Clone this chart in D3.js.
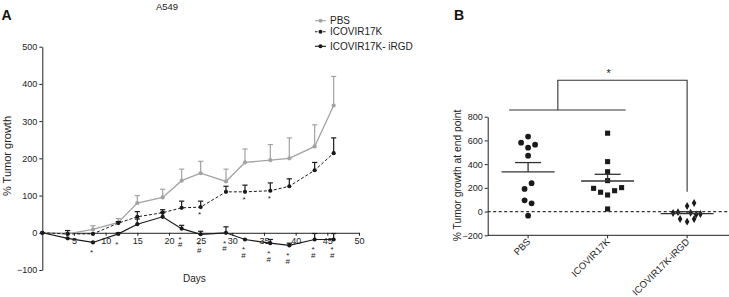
<!DOCTYPE html>
<html><head><meta charset="utf-8">
<script src="https://cdn.jsdelivr.net/npm/d3@7"></script>
<style>
body{margin:0;background:#fff;}
svg{display:block;font-family:"Liberation Sans",Arial,sans-serif;}
</style></head><body>
<svg id="c" width="729" height="297"></svg>
<script>
// ---------- Panel A data ----------
const days = [0,4,8,12,15,19,22,25,29,32,36,39,43,46];
const pbs       = [0,-3,9,28,80,95,140,160,138,189,195,200,232,342];
const pbsErr    = [0,3,10,10,20,22,31,32,33,36,42,55,58,78];
const icovir    = [0,-3,-3,26,43,54,67,69,110,110,113,125,168,214];
const icovirErr = [0,9,0,4,14,8,18,16,15,18,21,20,21,41];
const irgd      = [0,-15,-26,-3,23,43,11,-4,0,-18,-28,-34,-18,-18];
const irgdErr   = [0,0,0,3,14,12,9,8,16,0,10,6,16,16];
const irgdStarDays = [8,12,22,25,29,32,36,39,43,46];
const irgdHashDays = [22,25,29,32,36,39,43,46];
const icovirStarDays = [25,32,36];
const xTicksA = [5,10,15,20,25,30,35,40,45,50];
const yTicksA = [-100,0,100,200,300,400,500];
const seriesNames = ["PBS","ICOVIR17K","ICOVIR17K- iRGD"];

// ---------- Panel B data ----------
const groups = ["PBS","ICOVIR17K","ICOVIR17K-iRGD"];
const pbsEnd    = [632,581,564,539,471,239,191,95,70,-35];
const icovirEnd = [661,421,336,261,196,163,140,176,202,22];
const irgdEnd   = [47,72,-5,-10,-25,-20,-63,-85,-63,-12];
const pbsJit    = [0,-1,1,0,0,0.5,-0.5,-0.5,0.5,0];
const icovirJit = [0,0,0,0,-2,-1,0,1,2,0];
const irgdJit   = [0,1,-1.3,0.5,1.3,1.9,-1,0,1,-2];
const yTicksB = [-200,0,200,400,600,800];

const svg = d3.select("#c");
const ink = "#222";
const font = 9;

// ================= Panel A =================
const xA = d3.scaleLinear().domain([0,50]).range([42.3,359]);
const yA = d3.scaleLinear().domain([-100,500]).range([270,46.7]);

const gA = svg.append("g");
const yAxA = gA.append("g").attr("transform",`translate(${xA(0)},0)`)
  .call(d3.axisLeft(yA).tickValues(yTicksA).tickSize(3).tickSizeOuter(0).tickPadding(2));
const xAxA = gA.append("g").attr("transform",`translate(0,${yA(0)})`)
  .call(d3.axisBottom(xA).tickValues(xTicksA).tickSize(3).tickSizeOuter(0).tickPadding(2));
[yAxA,xAxA].forEach(a=>{
  a.selectAll("path,line").attr("stroke",ink).attr("stroke-width",1);
  a.selectAll("text").attr("fill",ink).style("font-size",font+"px").style("font-family","Liberation Sans, Arial, sans-serif");
});

gA.append("text").attr("x",167).attr("y",9.5).attr("text-anchor","middle")
  .attr("fill",ink).style("font-size","9.5px").text("A549");
gA.append("text").attr("x",1.5).attr("y",20).attr("fill","#111")
  .style("font-size","14px").style("font-weight","bold").text("A");
gA.append("text").attr("x",xA(24)).attr("y",282).attr("text-anchor","middle")
  .attr("fill",ink).style("font-size","10px").text("Days");
gA.append("text").attr("transform",`translate(10.5,156) rotate(-90)`).attr("text-anchor","middle")
  .attr("fill",ink).style("font-size","11px").text("% Tumor growth");

const series = [
  {vals:pbs, err:pbsErr, color:"#a3a3a3", dash:null, w:1.3},
  {vals:icovir, err:icovirErr, color:"#1a1a1a", dash:"3,2", w:1},
  {vals:irgd, err:irgdErr, color:"#1a1a1a", dash:null, w:1.2}
];
const line = d3.line().x(d=>xA(d[0])).y(d=>yA(d[1]));
series.forEach(s=>{
  const pts = days.map((d,i)=>[d,s.vals[i],s.err[i]]);
  const g = gA.append("g");
  // error bars (upper only)
  pts.filter(p=>p[2]>0).forEach(p=>{
    const x = xA(p[0]), y0 = yA(p[1]), y1 = yA(p[1]+p[2]);
    g.append("line").attr("x1",x).attr("x2",x).attr("y1",y0).attr("y2",y1)
      .attr("stroke",s.color).attr("stroke-width",1.2);
    g.append("line").attr("x1",x-2.6).attr("x2",x+2.6).attr("y1",y1).attr("y2",y1)
      .attr("stroke",s.color).attr("stroke-width",1.2);
  });
  g.append("path").datum(pts).attr("d",line).attr("fill","none")
    .attr("stroke",s.color).attr("stroke-width",s.w).attr("stroke-dasharray",s.dash);
  g.selectAll("circle").data(pts).join("circle")
    .attr("cx",p=>xA(p[0])).attr("cy",p=>yA(p[1])).attr("r",2.1).attr("fill",s.color);
});

// significance marks
const valAt = (arr,d)=>arr[days.indexOf(d)];
irgdStarDays.forEach(d=>{
  gA.append("text").attr("x",xA(d)-1.5).attr("y",yA(valAt(irgd,d))+13).attr("text-anchor","middle")
    .attr("fill",ink).style("font-size","8px").text("*");
});
irgdHashDays.forEach(d=>{
  gA.append("text").attr("x",xA(d)-1.5).attr("y",yA(valAt(irgd,d))+18.5).attr("text-anchor","middle")
    .attr("fill",ink).style("font-size","8px").text("#");
});
icovirStarDays.forEach(d=>{
  gA.append("text").attr("x",xA(d)-1).attr("y",yA(valAt(icovir,d))+10).attr("text-anchor","middle")
    .attr("fill",ink).style("font-size","8px").text("*");
});

// legend
const legY = [20.7,31.7,46.3];
series.forEach((s,i)=>{
  const g = gA.append("g").attr("transform",`translate(315,${legY[i]})`);
  g.append("line").attr("x1",0).attr("x2",11).attr("stroke",s.color).attr("stroke-width",1.1)
    .attr("stroke-dasharray",s.dash ? "2.5,1.5" : null);
  g.append("circle").attr("cx",5.5).attr("r",2).attr("fill",s.color);
  g.append("text").attr("x",15).attr("y",3.6).attr("fill",ink).style("font-size","10px").text(seriesNames[i]);
});

// ================= Panel B =================
const xB = d3.scalePoint().domain(groups).range([487.7,727.5]).padding(0.508);
const yB = d3.scaleLinear().domain([-200,800]).range([235.3,116.7]);
const gB = svg.append("g");

gB.append("text").attr("x",454).attr("y",19.5).attr("fill","#111")
  .style("font-size","14px").style("font-weight","bold").text("B");

const yAxB = gB.append("g").attr("transform",`translate(487.7,0)`)
  .call(d3.axisLeft(yB).tickValues(yTicksB).tickSize(3).tickSizeOuter(0).tickPadding(2));
yAxB.selectAll("path,line").attr("stroke",ink);
yAxB.selectAll("text").attr("fill",ink).style("font-size",font+"px").style("font-family","Liberation Sans, Arial, sans-serif");

// x axis line with ticks
gB.append("line").attr("x1",487.7).attr("x2",729).attr("y1",yB(-200)).attr("y2",yB(-200)).attr("stroke",ink);
groups.forEach(c=>{
  gB.append("line").attr("x1",xB(c)).attr("x2",xB(c)).attr("y1",yB(-200)).attr("y2",yB(-200)+3).attr("stroke",ink);
  gB.append("text").attr("transform",`translate(${xB(c)+3},${yB(-200)+7}) rotate(-45)`)
    .attr("text-anchor","end").attr("fill",ink).style("font-size","9.5px").text(c);
});
// zero dashed line
gB.append("line").attr("x1",487.7).attr("x2",729).attr("y1",yB(0)).attr("y2",yB(0))
  .attr("stroke","#333").attr("stroke-width",1.1).attr("stroke-dasharray","3,2.5");

gB.append("text").attr("transform",`translate(461,175.5) rotate(-90)`).attr("text-anchor","middle")
  .attr("fill",ink).style("font-size","10.3px").text("% Tumor growth at end point");

const sets = [
  {vals:pbsEnd, jit:pbsJit, shape:d3.symbolCircle, size:26},
  {vals:icovirEnd, jit:icovirJit, shape:d3.symbolSquare, size:26},
  {vals:irgdEnd, jit:irgdJit, shape:d3.symbolDiamond, size:18}
];
sets.forEach((s,i)=>{
  const cx = xB(groups[i]);
  const mean = d3.mean(s.vals);
  const sem = d3.deviation(s.vals)/Math.sqrt(s.vals.length);
  s.vals.forEach((v,j)=>{
    gB.append("path").attr("d",d3.symbol(s.shape,s.size)())
      .attr("transform",`translate(${cx+s.jit[j]*7},${yB(v)})`).attr("fill","#1a1a1a");
  });
  gB.append("line").attr("x1",cx-26.5).attr("x2",cx+26.5).attr("y1",yB(mean)).attr("y2",yB(mean))
    .attr("stroke","#333").attr("stroke-width",1.3);
  gB.append("line").attr("x1",cx).attr("x2",cx).attr("y1",yB(mean)).attr("y2",yB(mean+sem))
    .attr("stroke","#333").attr("stroke-width",1.3);
  gB.append("line").attr("x1",cx-13).attr("x2",cx+13).attr("y1",yB(mean+sem)).attr("y2",yB(mean+sem))
    .attr("stroke","#333").attr("stroke-width",1.3);
});

// significance bracket
const bLow = 857, bHigh = 1107, bEnd = 168;
const xMid = (xB(groups[0])+xB(groups[1]))/2 - 10;
gB.append("line").attr("x1",xB(groups[0])-19).attr("x2",xB(groups[1])+18)
  .attr("y1",yB(bLow)).attr("y2",yB(bLow)).attr("stroke","#333").attr("stroke-width",1.1);
gB.append("path").attr("d",`M${xMid},${yB(bLow)}V${yB(bHigh)}H${xB(groups[2])}V${yB(bEnd)}`)
  .attr("fill","none").attr("stroke","#333").attr("stroke-width",1.1);
gB.append("text").attr("x",xB(groups[1])+1).attr("y",yB(bHigh)-3).attr("text-anchor","middle")
  .attr("fill",ink).style("font-size","11px").text("*");
</script>
</body></html>
